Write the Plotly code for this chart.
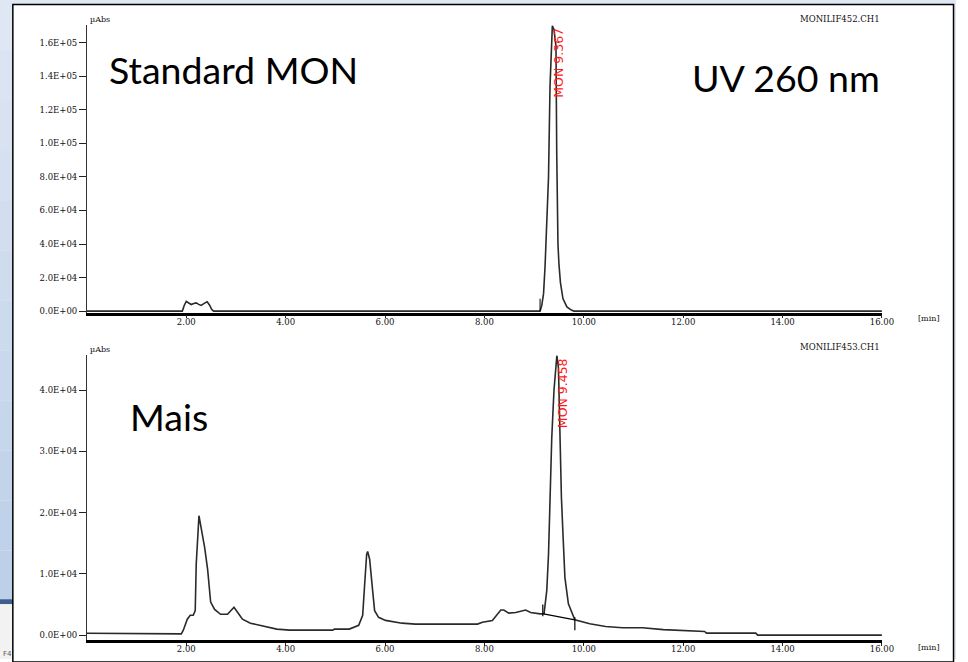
import plotly.graph_objects as go

W, H = 968, 662

# ---------------- data ----------------
top_time = [0, 1.92, 1.96, 2.00, 2.05, 2.10, 2.15, 2.20, 2.25, 2.30, 2.36, 2.42, 2.47, 2.51, 2.55,
            9.12, 9.155, 9.19, 9.22, 9.255, 9.29, 9.32, 9.35, 9.367, 9.40, 9.44, 9.455, 9.465,
            9.48, 9.50, 9.53, 9.58, 9.66, 9.75, 9.80, 16.0]
top_signal = [0, 0, 3500, 5800, 4800, 3900, 4500, 4900, 4000, 3400, 4600, 5500, 3500, 1100, 0,
              0, 3400, 10400, 26400, 51000, 79900, 134000, 165000, 170100, 168000, 158000, 95000, 62000,
              40000, 28000, 17000, 7500, 2500, 600, 0, 0]

bot_time = [0, 1.90, 1.94, 2.02, 2.08, 2.14, 2.18, 2.20, 2.255, 2.29, 2.37, 2.43, 2.49, 2.57, 2.69,
            2.83, 2.96, 3.06, 3.13, 3.29, 3.56, 3.82, 4.08, 4.95, 4.98, 5.28, 5.47, 5.55, 5.59, 5.63,
            5.65, 5.69, 5.75, 5.79, 5.87, 6.01, 6.34, 6.61, 7.86, 7.96, 8.16, 8.33, 8.39, 8.49, 8.63,
            8.83, 8.93, 9.12, 9.20, 9.255, 9.29, 9.32, 9.355, 9.40, 9.458, 9.49, 9.52, 9.55, 9.59, 9.62,
            9.69, 9.79, 9.82, 10.12, 10.44, 10.78, 11.18, 11.60, 12.00, 12.43, 12.47, 13.46, 13.50, 16.0]
bot_signal = [300, 200, 800, 2600, 3250, 3250, 4000, 11600, 19500, 17900, 14300, 10700, 5400, 4200, 3400,
              3400, 4550, 3400, 2600, 1950, 1450, 980, 810, 810, 980, 980, 1600, 3250, 8300, 13200,
              13650, 12400, 7300, 4000, 2900, 2400, 1950, 1800, 1800, 2100, 2400, 4100, 4100, 3600, 3700,
              4100, 3700, 3470, 3500, 7300, 13200, 23600, 32200, 40000, 45700, 43600, 32200, 22400, 14800, 9400,
              5100, 2900, 2500, 1850, 1400, 1200, 1200, 900, 700, 600, 330, 330, 0, 0]

# integration marks
top_tick_time = [9.12, 9.12]
top_tick_signal = [7400, 0]
bot_base_time = [9.19, 9.82]
bot_base_signal = [3460, 2490]
bot_tick1_time = [9.175, 9.175]
bot_tick1_signal = [5000, 3100]
bot_tick2_time = [9.82, 9.82]
bot_tick2_signal = [2900, 800]

x_ticks = [2, 4, 6, 8, 10, 12, 14, 16]
x_labels = ["2.00", "4.00", "6.00", "8.00", "10.00", "12.00", "14.00", "16.00"]
top_yticks = [0, 20000, 40000, 60000, 80000, 100000, 120000, 140000, 160000]
top_ylabels = ["0.0E+00", "2.0E+04", "4.0E+04", "6.0E+04", "8.0E+04", "1.0E+05", "1.2E+05", "1.4E+05", "1.6E+05"]
bot_yticks = [0, 10000, 20000, 30000, 40000]
bot_ylabels = ["0.0E+00", "1.0E+04", "2.0E+04", "3.0E+04", "4.0E+04"]

peak_labels = ["MON 9.367", "MON 9.458"]
file_labels = ["MONILIF452.CH1", "MONILIF453.CH1"]


def px(x):
    return x / W


def py(y):
    return 1 - y / H


LINE = "#2a2a2a"
fig = go.Figure()
fig.add_trace(go.Scatter(x=top_time, y=top_signal, mode="lines", line=dict(color=LINE, width=1.6),
                         xaxis="x", yaxis="y", hoverinfo="skip"))
fig.add_trace(go.Scatter(x=top_tick_time, y=top_tick_signal, mode="lines", line=dict(color="black", width=1),
                         xaxis="x", yaxis="y", hoverinfo="skip"))
fig.add_trace(go.Scatter(x=bot_time, y=bot_signal, mode="lines", line=dict(color=LINE, width=1.6),
                         xaxis="x2", yaxis="y2", hoverinfo="skip"))
for tx, ty in [(bot_base_time, bot_base_signal), (bot_tick1_time, bot_tick1_signal), (bot_tick2_time, bot_tick2_signal)]:
    fig.add_trace(go.Scatter(x=tx, y=ty, mode="lines", line=dict(color="black", width=1.2),
                             xaxis="x2", yaxis="y2", hoverinfo="skip"))

tickfont = dict(family="DejaVu Serif", size=8.5, color="#111")
xdom = [px(88), px(893)]

u_top = 160000 / (312.5 - 43)
u_bot = 40000 / (638 - 392)

common_x = dict(range=[0, 16], domain=xdom, showgrid=False, zeroline=False, showline=True,
                linecolor="black", linewidth=2.5, ticks="outside", ticklen=3, tickcolor="#222",
                tickvals=x_ticks, ticktext=x_labels, tickfont=tickfont, fixedrange=True,
                ticklabelstandoff=-4)
common_y = dict(showgrid=False, zeroline=False, showline=True, linecolor="#333", linewidth=1,
                ticks="outside", ticklen=7, tickcolor="#222", tickfont=tickfont, fixedrange=True)

fig.update_layout(
    width=W, height=H, autosize=False,
    margin=dict(l=0, r=0, t=0, b=0),
    paper_bgcolor="white", plot_bgcolor="rgba(0,0,0,0)",
    showlegend=False,
    xaxis=dict(anchor="y", **common_x),
    yaxis=dict(anchor="x", domain=[py(314), py(25)],
               range=[-(314 - 312.5) * u_top, (312.5 - 25) * u_top],
               tickvals=top_yticks, ticktext=top_ylabels, **common_y),
    xaxis2=dict(anchor="y2", **common_x),
    yaxis2=dict(anchor="x2", domain=[py(643), py(357)],
                range=[-(643 - 638) * u_bot, (638 - 357) * u_bot],
                tickvals=bot_yticks, ticktext=bot_ylabels, **common_y),
)

# ---------------- slide background / frame ----------------
shapes = []
bands = 12
c0 = (222, 231, 243)
c1 = (190, 208, 232)
for i in range(bands):
    f = i / (bands - 1)
    col = tuple(int(c0[k] + (c1[k] - c0[k]) * f) for k in range(3))
    y0 = 603 * i / bands
    y1 = 603 * (i + 1) / bands
    shapes.append(dict(type="rect", xref="paper", yref="paper", x0=0, x1=px(13), y0=py(y1), y1=py(y0),
                       fillcolor="rgb(%d,%d,%d)" % col, line=dict(width=0), layer="below"))
shapes.append(dict(type="rect", xref="paper", yref="paper", x0=0, x1=px(13), y0=py(607), y1=py(602),
                   fillcolor="#3c5f8e", line=dict(width=0), layer="below"))
shapes.append(dict(type="rect", xref="paper", yref="paper", x0=0, x1=px(13), y0=0, y1=py(607),
                   fillcolor="#f2f2f2", line=dict(width=0), layer="below"))
shapes.append(dict(type="rect", xref="paper", yref="paper", x0=px(13), x1=1, y0=py(4.5), y1=1,
                   fillcolor="#dfe7f2", line=dict(width=0), layer="below"))
shapes.append(dict(type="rect", xref="paper", yref="paper", x0=px(965.5), x1=1, y0=0, y1=1,
                   fillcolor="#dfe7f2", line=dict(width=0), layer="below"))
shapes.append(dict(type="rect", xref="paper", yref="paper", x0=px(13), x1=px(965.5), y0=py(665), y1=py(4.5),
                   fillcolor="rgba(0,0,0,0)", line=dict(color="black", width=1.5), layer="below"))
fig.update_layout(shapes=shapes)

# ---------------- text ----------------
ann = []
small = dict(family="DejaVu Serif", size=8, color="#111")
for yy in (20, 351):
    ann.append(dict(x=px(89), y=py(yy), xref="paper", yref="paper", text="µAbs", showarrow=False,
                    xanchor="left", yanchor="middle", font=small))
for yy in (320, 650):
    ann.append(dict(x=px(927), y=py(yy), xref="paper", yref="paper", text="[min]", showarrow=False,
                    xanchor="left", yanchor="middle", font=small))
for yy, t in zip((19, 349), file_labels):
    ann.append(dict(x=px(893), y=py(yy), xref="paper", yref="paper", text=t, showarrow=False,
                    xanchor="right", yanchor="middle", font=dict(family="DejaVu Serif", size=8.5, color="#111")))

big = dict(family="Lato", size=37.5, color="black")
ann.append(dict(x=px(108), y=py(70), xref="paper", yref="paper", text="Standard MON", showarrow=False,
                xanchor="left", yanchor="middle", font=big))
ann.append(dict(x=px(699), y=py(78), xref="paper", yref="paper", text="UV 260 nm", showarrow=False,
                xanchor="left", yanchor="middle", font=big))
ann.append(dict(x=px(130), y=py(418), xref="paper", yref="paper", text="Mais", showarrow=False,
                xanchor="left", yanchor="middle", font=big))

red = dict(family="DejaVu Sans", size=12.5, color="#ff1a1a")
ann.append(dict(x=px(566), y=py(63), xref="paper", yref="paper", text=peak_labels[0], showarrow=False,
                textangle=-90, xanchor="center", yanchor="middle", font=red))
ann.append(dict(x=px(569), y=py(395), xref="paper", yref="paper", text=peak_labels[1], showarrow=False,
                textangle=-90, xanchor="center", yanchor="middle", font=red))
ann.append(dict(x=px(1), y=py(657), xref="paper", yref="paper", text="F4", showarrow=False,
                xanchor="left", yanchor="middle", font=dict(family="DejaVu Sans", size=7, color="#555")))
fig.update_layout(annotations=ann)

page_fix = (
    "document.documentElement.style.margin='0';"
    "document.body.style.margin='0';"
    "document.documentElement.style.overflow='hidden';"
    "document.body.style.overflow='hidden';"
)
fig.write_html("out.html",
               config={"displayModeBar": False, "responsive": False},
               post_script=page_fix)
